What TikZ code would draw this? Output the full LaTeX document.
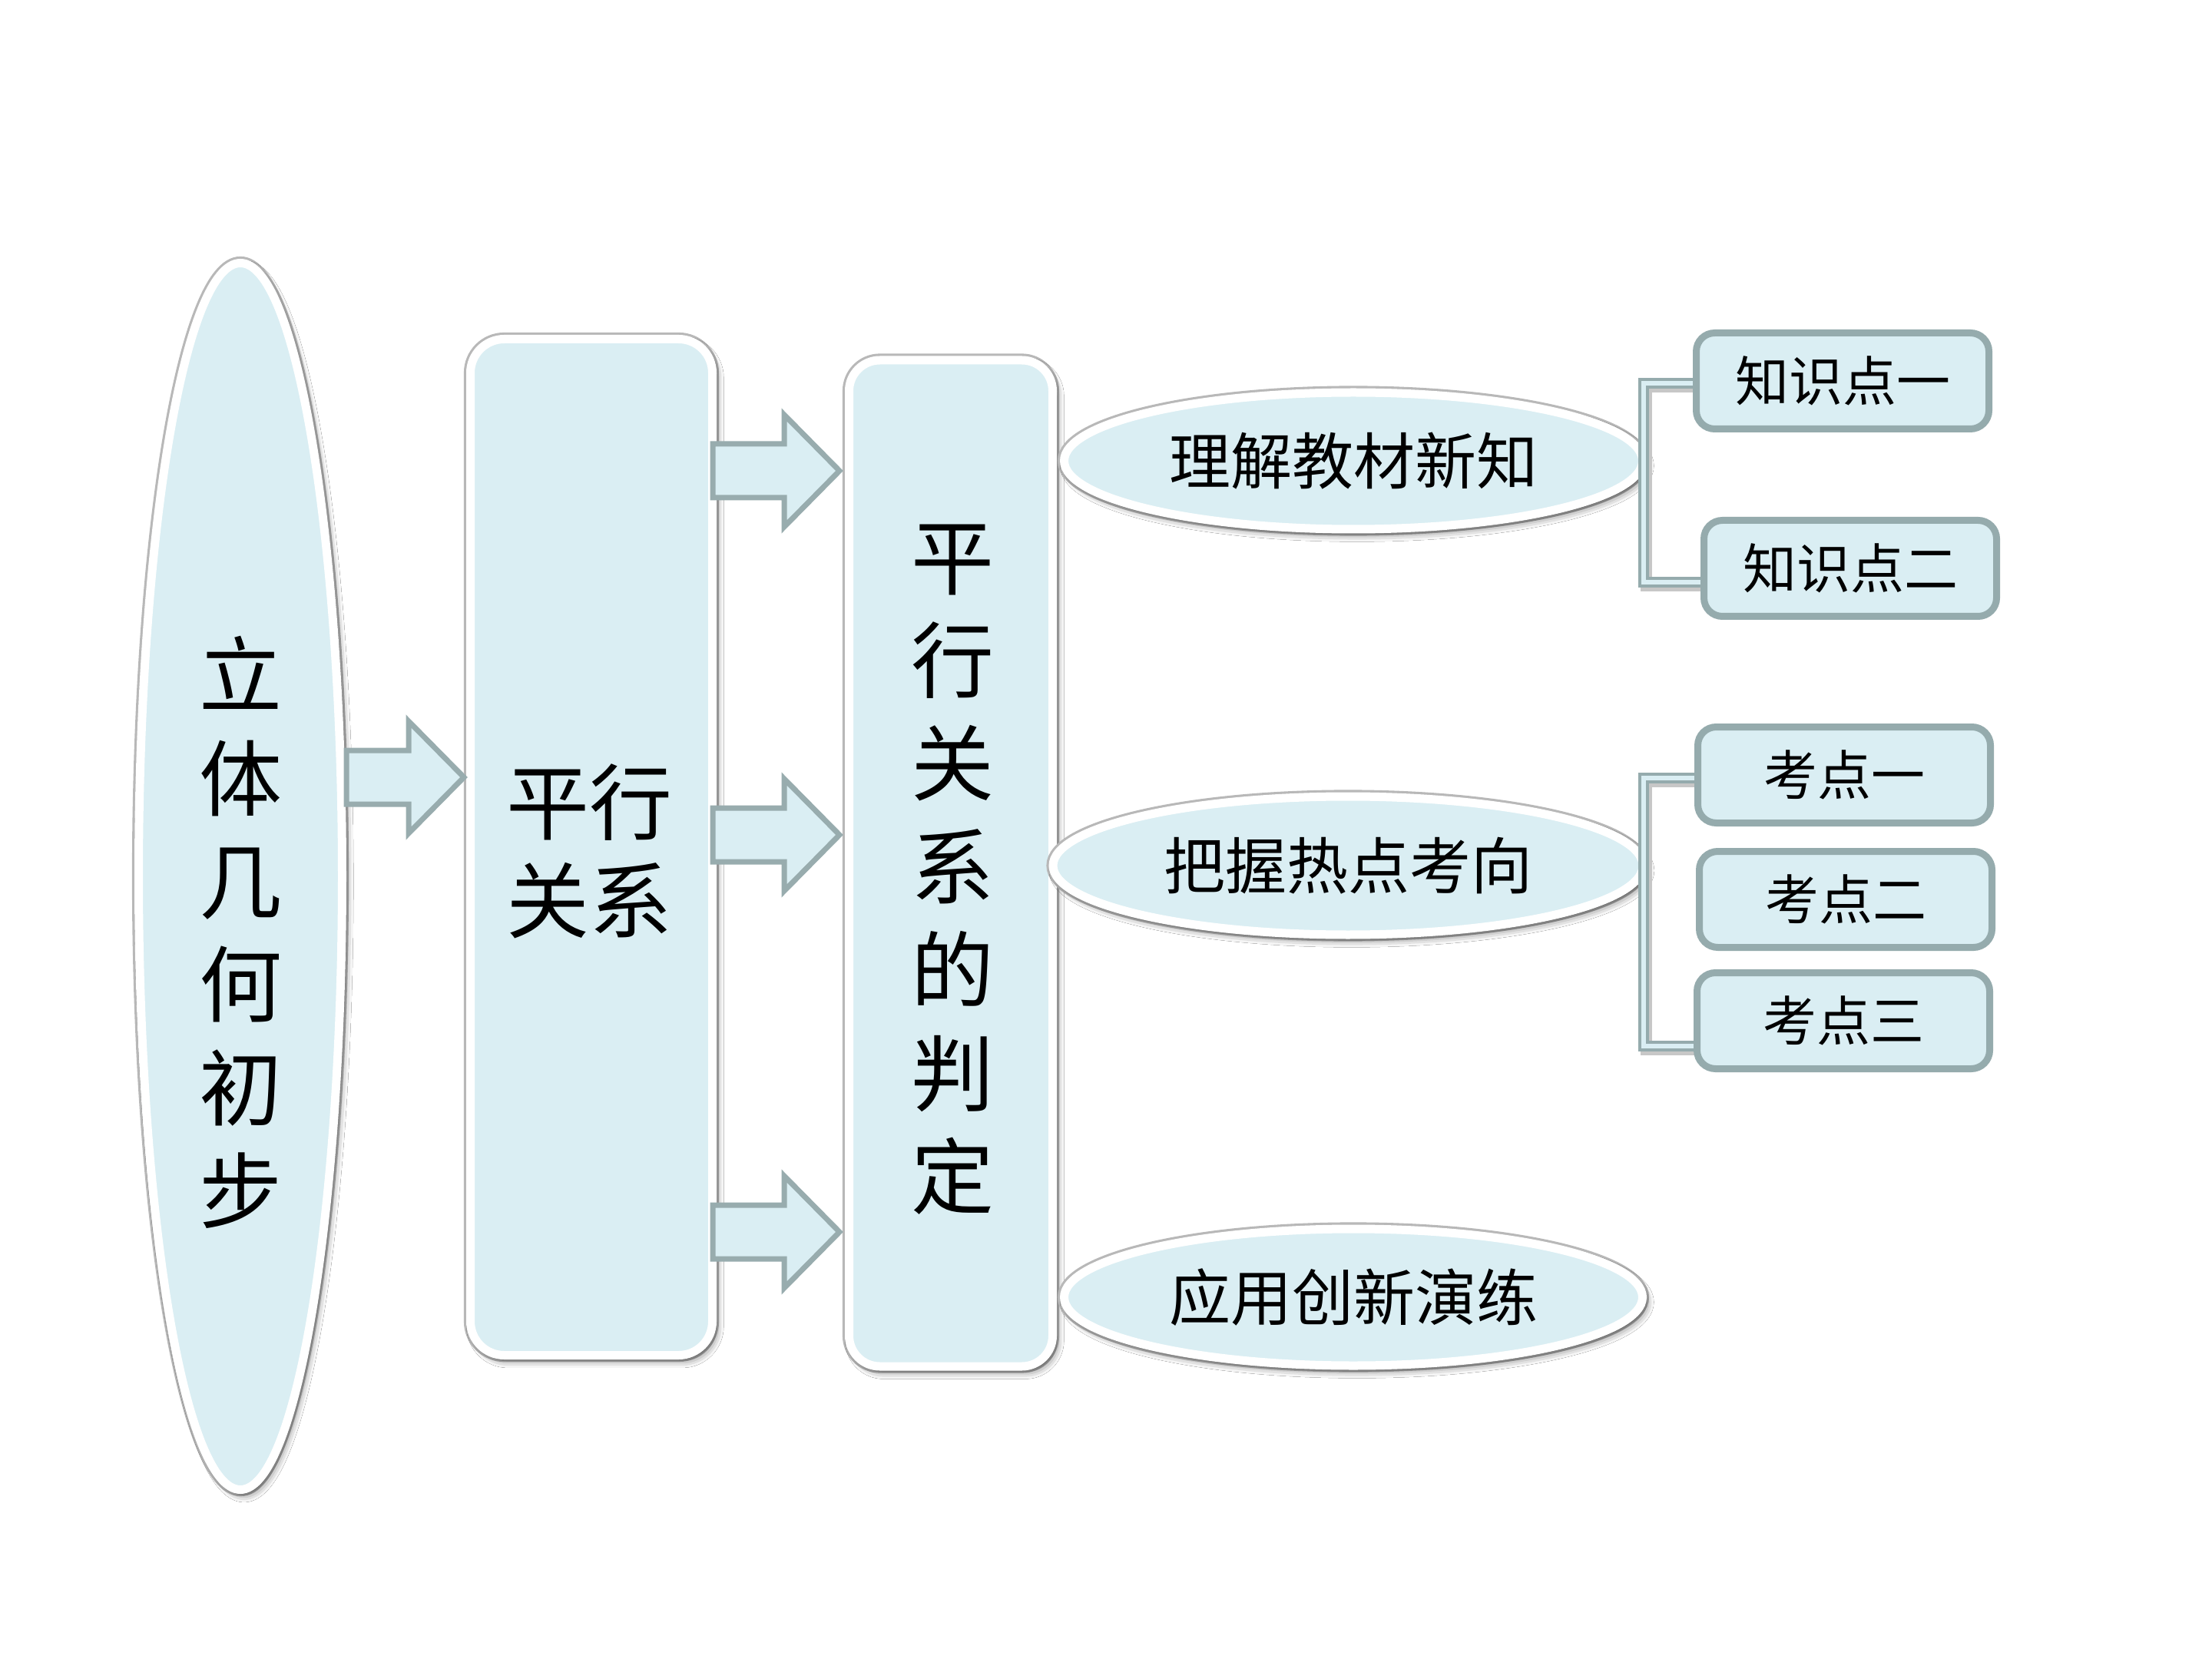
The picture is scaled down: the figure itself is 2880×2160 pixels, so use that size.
\documentclass[tikz,border=0pt]{standalone}
\usepackage{fontspec}
\setmainfont{Noto Sans CJK SC}
\usetikzlibrary{shapes.geometric,shadows.blur,calc}
\definecolor{boxblue}{HTML}{DAEEF3}
\definecolor{edgegray}{HTML}{95ABAD}
\definecolor{arrowgray}{HTML}{98ACAE}
\newcommand\blockarrow[2]{%
  \draw[arrowshape] let \p1=(#1), \p2=(#2) in
    (\x1,\y1+8.75pt) -- (\x2-18pt,\y1+8.75pt) -- (\x2-18pt,\y1+18.25pt) --
    (\x2,\y1) -- (\x2-18pt,\y1-18.25pt) -- (\x2-18pt,\y1-8.75pt) --
    (\x1,\y1-8.75pt) -- cycle;}
\begin{document}
\begin{tikzpicture}[x=0.25pt,y=-0.25pt,
  mainshape/.style={fill=boxblue, draw=white, line width=2.75pt, inner sep=0pt,
    preaction={draw=black!28, line width=4.3pt},
    blur shadow={shadow xshift=1.2pt, shadow yshift=-1.6pt, shadow blur radius=2.5pt, shadow opacity=60}},
  ovalbox/.style={mainshape, ellipse, font=\fontsize{20pt}{24pt}\selectfont},
  smallbox/.style={fill=boxblue, draw=edgegray, line width=2.25pt, rounded corners=6pt,
    minimum width=95.25pt, minimum height=31.25pt, inner sep=0pt,
    font=\fontsize{17.5pt}{20pt}\selectfont},
  bigtext/.style={align=center, inner sep=0pt, font=\fontsize{27pt}{33.6pt}\selectfont},
  arrowshape/.style={fill=boxblue, draw=arrowgray, line width=1.75pt, line join=miter},
  bracket/.style={draw=edgegray, line width=0.9pt, double=boxblue, double distance=1.6pt,
    line join=miter,
    preaction={draw=black!22, line width=3.6pt, transform canvas={shift={(0.9pt,-1.1pt)}}}}
]
\useasboundingbox (0,0) rectangle (2880,2160);
\fill[white] (0,0) rectangle (2880,2160);

% main column shapes
\node[mainshape, ellipse, minimum width=66.25pt, minimum height=399.25pt] (geo) at (313,1141) {};
\node[bigtext] (geot) at (313,1214) {立\\体\\几\\何\\初\\步};

\node[mainshape, rounded corners=11pt, minimum width=78.75pt, minimum height=330.75pt] (par) at (770,1103) {};
\node[bigtext, font=\fontsize{27pt}{32pt}\selectfont] (part) at (767,1108) {平行\\关系};

\node[mainshape, rounded corners=10pt, minimum width=66.25pt, minimum height=327.5pt] (judge) at (1238,1124) {};
\node[bigtext] (judget) at (1240,1132) {平\\行\\关\\系\\的\\判\\定};

% block arrows
\coordinate (a1s) at (451,1012);  \coordinate (a1t) at (604,1012);
\coordinate (a2s) at (928,613);   \coordinate (a2t) at (1093,613);
\coordinate (a3s) at (928,1087);  \coordinate (a3t) at (1093,1087);
\coordinate (a4s) at (928,1604);  \coordinate (a4t) at (1093,1604);
\blockarrow{a1s}{a1t}
\blockarrow{a2s}{a2t}
\blockarrow{a3s}{a3t}
\blockarrow{a4s}{a4t}

% ovals
\node[ovalbox, minimum width=188.25pt, minimum height=44.5pt] (learn) at (1762,600) {理解教材新知};
\node[ovalbox, minimum width=192pt, minimum height=45pt] (hot) at (1755,1127) {把握热点考向};
\node[ovalbox, minimum width=188.25pt, minimum height=44.5pt] (apply) at (1762,1689) {应用创新演练};

% small boxes (positions)
\coordinate (k1c) at (2399,496);
\coordinate (k2c) at (2409,740);
\coordinate (e1c) at (2401,1009);
\coordinate (e2c) at (2403,1171);
\coordinate (e3c) at (2400,1329);

% brackets
\coordinate (b1a) at (2140,499);
\coordinate (b1b) at (2140,758);
\coordinate (b2a) at (2140,1013);
\coordinate (b2b) at (2140,1362);
\draw[bracket] (k1c |- b1a) -- (b1a) -- (b1b) -- (k2c |- b1b);
\draw[bracket] (e1c |- b2a) -- (b2a) -- (b2b) -- (e3c |- b2b);

\node[smallbox] (k1) at (k1c) {知识点一};
\node[smallbox] (k2) at (k2c) {知识点二};
\node[smallbox] (e1) at (e1c) {考点一};
\node[smallbox] (e2) at (e2c) {考点二};
\node[smallbox] (e3) at (e3c) {考点三};
\end{tikzpicture}
\end{document}
